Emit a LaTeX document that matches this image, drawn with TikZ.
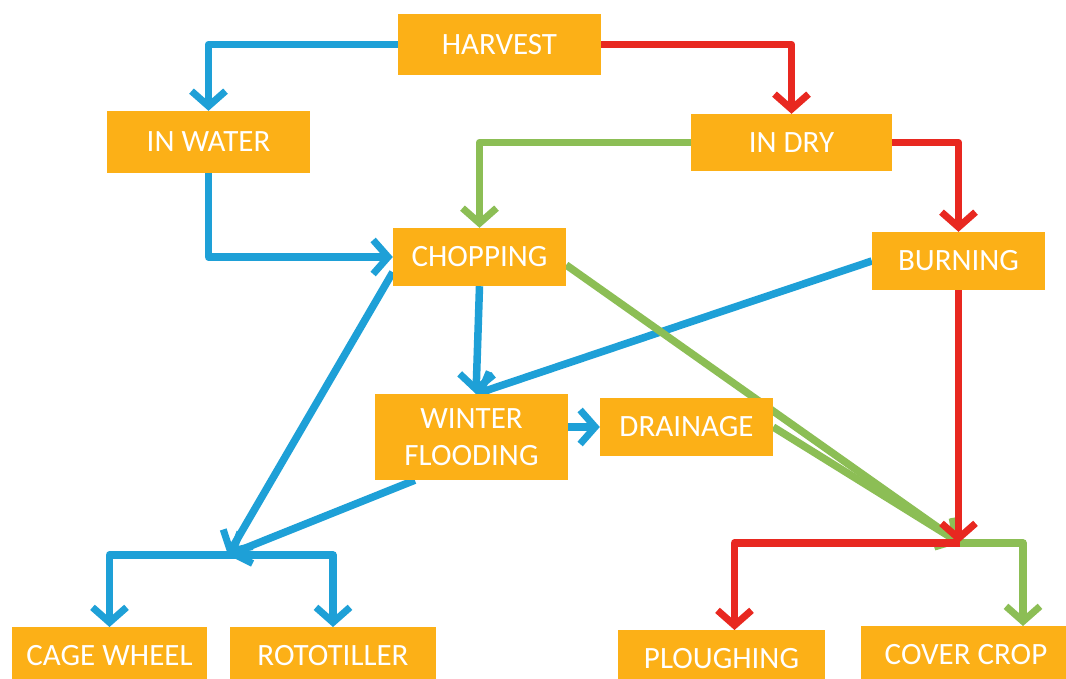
\documentclass[tikz,border=0pt]{standalone}
\usepackage{fontspec}
\setmainfont{Carlito}
\usetikzlibrary{arrows.meta,backgrounds}
\definecolor{boxc}{RGB}{252,176,23}
\definecolor{cblue}{RGB}{30,160,215}
\definecolor{cred}{RGB}{232,40,32}
\definecolor{cgreen}{RGB}{140,190,85}
\begin{document}
\begin{tikzpicture}[x=1pt,y=-1pt,
  box/.style={fill=boxc, text=white, font=\fontsize{31}{37}\selectfont, inner sep=0pt, align=center},
  con/.style={line width=7.5pt, -{Straight Barb[length=15pt,width=34pt,line width=7pt]}, line join=round},
]
\useasboundingbox (0,0) rectangle (1066,679);
\clip (0,0) rectangle (1066,679);

\node[box,minimum width=203pt,minimum height=61pt] (harvest) at (499.5,44.5) {HARVEST};
\node[box,minimum width=203pt,minimum height=62pt] (inwater) at (208.5,142) {IN WATER};
\node[box,minimum width=201pt,minimum height=57pt] (indry) at (791.5,142.5) {IN DRY};
\node[box,minimum width=173pt,minimum height=58pt] (chopping) at (479.5,257) {CHOPPING};
\node[box,minimum width=173pt,minimum height=58pt] (burning) at (958.5,261) {BURNING};
\node[box,minimum width=193pt,minimum height=86pt] (winter) at (471.5,437) {WINTER\\FLOODING};
\node[box,minimum width=173pt,minimum height=58pt] (drainage) at (686.5,427) {DRAINAGE};
\node[box,minimum width=195pt,minimum height=56pt,anchor=north] (cage) at (109.5,627) {CAGE WHEEL};
\node[box,minimum width=206pt,minimum height=56pt,anchor=north] (roto) at (333,627) {ROTOTILLER};
\node[box,minimum width=207pt,minimum height=56pt,anchor=north] (plough) at (721.5,630) {PLOUGHING};
\node[box,minimum width=210pt,minimum height=56pt,anchor=north] (cover) at (966,626) {COVER CROP};

\coordinate (wfin) at (476,394);
\coordinate (jL) at (228,555);
\coordinate (jR) at (960,543);

\begin{pgfonlayer}{background}
\fill[white] (0,0) rectangle (1066,679);
\draw[con,cblue] (harvest.west) -| (inwater.north);
\draw[con,cred] (harvest.east) -| (indry.north);
\draw[con,cgreen] (indry.west) -| (chopping.north);
\draw[con,cred] (indry.east) -| (burning.north);
\draw[con,cblue] (inwater.south) |- (chopping.west);
\draw[con,cblue] (chopping.south) -- (wfin);
\draw[con,cblue] (burning.west) -- (wfin);
\draw[con,cblue] ([yshift=14pt]chopping.south west) -- (jL);
\draw[con,cblue] ([xshift=40pt]winter.south west) -- (jL);
\draw[con,cblue] (jL) -| (cage.north);
\draw[con,cblue] (jL) -| (roto.north);
\draw[con,cblue] (winter.east |- drainage.west) -- (drainage.west);
\draw[con,cgreen] ([yshift=-8pt]chopping.east) -- (jR);
\draw[con,cgreen] (drainage.east) -- (jR);
\draw[con,cred] (jR) -| ([xshift=13pt]plough.north);
\draw[con,cgreen] (jR) -| ([xshift=57pt]cover.north);
\draw[con,cred] (burning.south) -- (burning.south |- jR);
\end{pgfonlayer}
\end{tikzpicture}
\end{document}
